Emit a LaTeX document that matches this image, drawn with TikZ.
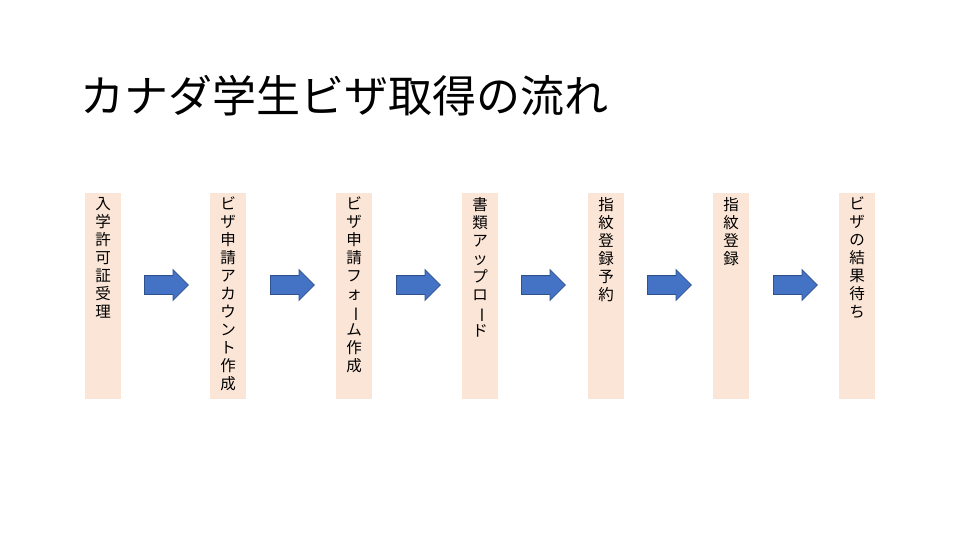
\documentclass[tikz,border=0pt]{standalone}
\usepackage{fontspec}
\usepackage{graphicx}
\newfontfamily\cjk{Noto Sans CJK JP}
\tikzset{
  colbox/.style={fill=boxfill,draw=none,minimum width=36pt,minimum height=206pt,anchor=north west,inner sep=0pt},
  coltext/.style={anchor=north,align=center,font=\cjk\fontsize{15.5pt}{18pt}\selectfont,inner sep=0pt},
  bluearrow/.style={single arrow,fill=arrowblue,draw=arrowedge,line width=0.8pt,minimum height=44pt,inner xsep=0pt,inner ysep=9pt,single arrow head extend=6pt,single arrow head indent=0pt,anchor=west}
}
\definecolor{boxfill}{HTML}{FBE5D6}
\definecolor{arrowblue}{HTML}{4472C4}
\definecolor{arrowedge}{HTML}{2F528F}
\usetikzlibrary{shapes.arrows}
\newcommand{\vbar}{\rotatebox[origin=c]{-90}{ー}}
\begin{document}
\begin{tikzpicture}[x=1pt,y=-1pt]
\useasboundingbox (0,0) rectangle (960,540);
\node[anchor=west,font=\cjk\fontsize{44pt}{46pt}\selectfont,inner sep=0pt] (title) at (80,96) {カナダ学生ビザ取得の流れ};
\foreach \i/\x in {1/85,2/210,3/336,4/462,5/588,6/713,7/839}{
  \node[colbox] (b\i) at (\x,193) {};
}
\node[coltext] (t1) at ([yshift=-4pt]b1.north) {入\\学\\許\\可\\証\\受\\理};
\node[coltext] (t2) at ([yshift=-4pt]b2.north) {ビ\\ザ\\申\\請\\ア\\カ\\ウ\\ン\\ト\\作\\成};
\node[coltext] (t3) at ([yshift=-4pt]b3.north) {ビ\\ザ\\申\\請\\フ\\ォ\\\vbar\\ム\\作\\成};
\node[coltext] (t4) at ([yshift=-4pt]b4.north) {書\\類\\ア\\ッ\\プ\\ロ\\\vbar\\ド};
\node[coltext] (t5) at ([yshift=-4pt]b5.north) {指\\紋\\登\\録\\予\\約};
\node[coltext] (t6) at ([yshift=-4pt]b6.north) {指\\紋\\登\\録};
\node[coltext] (t7) at ([yshift=-4pt]b7.north) {ビ\\ザ\\の\\結\\果\\待\\ち};
\foreach \x [count=\j] in {144,270,396,521,647,773}{
  \node[bluearrow] (a\j) at (\x,285) {};
}
\end{tikzpicture}
\end{document}
